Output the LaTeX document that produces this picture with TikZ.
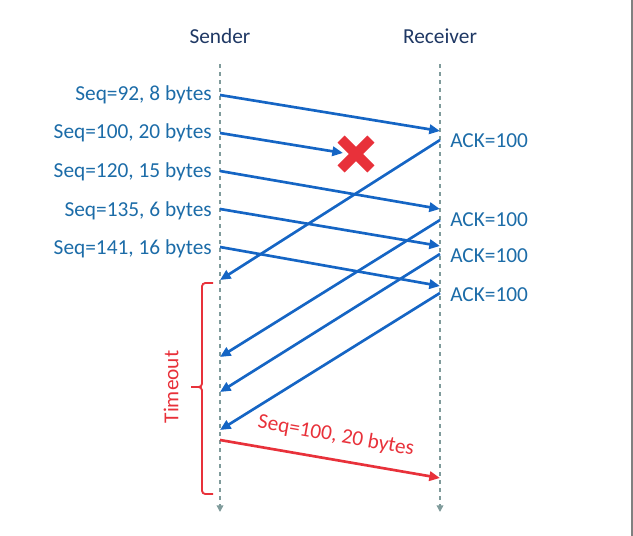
\documentclass[tikz,border=0pt]{standalone}
\usepackage{fontspec}
\setmainfont{Carlito}
\usepackage{tikz}
\usetikzlibrary{positioning,arrows.meta,calc}
\definecolor{lifegrey}{RGB}{127,155,155}
\definecolor{msgblue}{RGB}{21,101,196}
\definecolor{lblblue}{RGB}{28,108,168}
\definecolor{headnavy}{RGB}{31,56,100}
\definecolor{lossred}{RGB}{232,49,58}
\tikzset{
  life/.style  = {draw=lifegrey, dashed, line width=1.1pt,
                  -{Triangle[length=5pt,width=5pt]}},
  head/.style  = {font=\fontsize{16}{18}\selectfont, text=headnavy},
  msg/.style   = {draw=msgblue, line width=2pt,
                  -{Triangle[length=8pt,width=7pt]}},
  resend/.style= {msg, draw=lossred, fill=lossred},
  seqlbl/.style= {font=\fontsize{16}{18}\selectfont, text=lblblue,
                  anchor=east, inner sep=0pt},
  acklbl/.style= {font=\fontsize{16}{18}\selectfont, text=lblblue,
                  anchor=west, inner sep=0pt},
  brk/.style   = {draw=lossred, line width=1.4pt, rounded corners=2.5pt},
}

\begin{document}
\begin{tikzpicture}[x=0.75pt,y=-0.75pt]
  \useasboundingbox (0,0) rectangle (633,536);
  \draw[gray, line width=0.8pt] (632,0) -- (632,536);

  % --- lifelines ---
  \node[head] (sender)   at (220,36) {Sender};
  \node[head] (receiver) at (440,36) {Receiver};
  \coordinate (stop)  at (220,64);
  \coordinate (sbot)  at (220,512);
  \coordinate (rtop)  at (440,64);
  \coordinate (rbot)  at (440,512);
  \draw[life] (stop) -- (sbot);
  \draw[life] (rtop) -- (rbot);

  % --- segments sent ---
  \coordinate (s1) at (220,95);  \coordinate (r1) at (440,131);
  \coordinate (s2) at (220,133); \coordinate (lost) at (343,153);
  \coordinate (s3) at (220,171); \coordinate (r3) at (440,209);
  \coordinate (s4) at (220,209); \coordinate (r4) at (440,246);
  \coordinate (s5) at (220,247); \coordinate (r5) at (440,286);

  \node[seqlbl] (l1) at (212,95)  {Seq=92, 8 bytes};
  \node[seqlbl] (l2) at (212,133) {Seq=100, 20 bytes};
  \node[seqlbl] (l3) at (212,172) {Seq=120, 15 bytes};
  \node[seqlbl] (l4) at (212,211) {Seq=135, 6 bytes};
  \node[seqlbl] (l5) at (212,249) {Seq=141, 16 bytes};

  \draw[msg] (s1) -- (r1);
  \draw[msg] (s2) -- (lost);
  \draw[msg] (s3) -- (r3);
  \draw[msg] (s4) -- (r4);
  \draw[msg] (s5) -- (r5);

  % --- the loss ---
  \node[inner sep=0pt, minimum size=22pt] (cross) at (356,154) {};
  \draw[lossred, line width=7.5pt]
    (cross.north west) -- (cross.south east)
    (cross.north east) -- (cross.south west);

  % --- duplicate acks ---
  \coordinate (a1) at (440,140); \coordinate (b1) at (220,280);
  \coordinate (a2) at (440,220); \coordinate (b2) at (220,357);
  \coordinate (a3) at (440,254); \coordinate (b3) at (220,392);
  \coordinate (a4) at (440,293); \coordinate (b4) at (220,430);

  \node[acklbl] (k1) at (450,141) {ACK=100};
  \node[acklbl] (k2) at (450,220) {ACK=100};
  \node[acklbl] (k3) at (450,256) {ACK=100};
  \node[acklbl] (k4) at (450,295) {ACK=100};

  \draw[msg] (a1) -- (b1);
  \draw[msg] (a2) -- (b2);
  \draw[msg] (a3) -- (b3);
  \draw[msg] (a4) -- (b4);

  % --- timeout and retransmission ---
  \coordinate (ttop) at (213,283);
  \coordinate (tmid) at (202,387);
  \coordinate (ttip) at (191,387);
  \coordinate (tbot) at (213,494);
  \draw[brk] (ttop) -| (tmid) -- (ttip);
  \draw[brk] (ttip) -- (tmid) |- (tbot);
  \node[text=lossred, rotate=90, font=\fontsize{16}{18}\selectfont]
       (tout) at (171,387) {Timeout};

  \coordinate (s6) at (220,440); \coordinate (r6) at (440,478);
  \draw[resend] (s6) -- (r6);
  \node[text=lossred, rotate=-10, font=\fontsize{16}{18}\selectfont]
       (l6) at (336,436) {Seq=100, 20 bytes};
\end{tikzpicture}
\end{document}
